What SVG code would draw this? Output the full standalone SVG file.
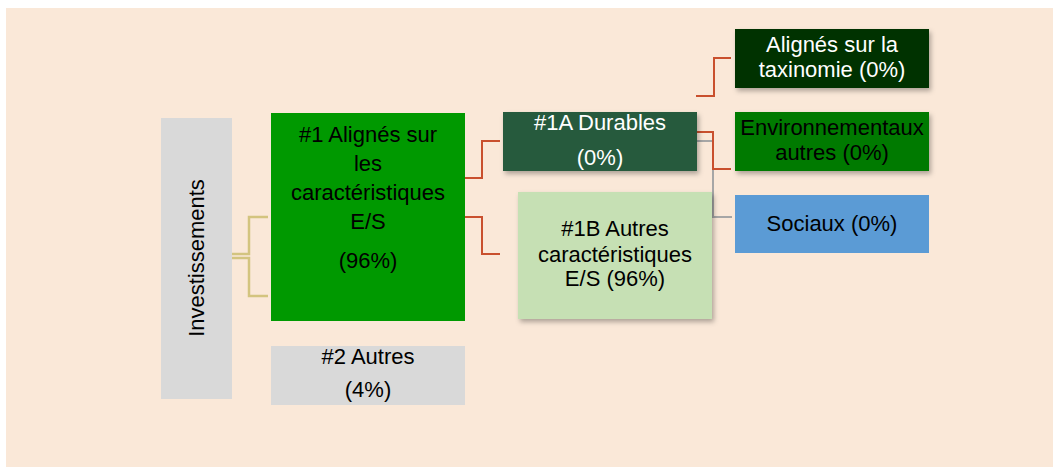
<svg xmlns="http://www.w3.org/2000/svg" width="1053" height="468" viewBox="0 0 1053 468">
<defs>
<style>
text{font-family:"Liberation Sans",Arial,sans-serif;font-size:22px;text-anchor:middle}
.w{fill:#ffffff}
.k{fill:#000000}
.gold{fill:none;stroke:#D3C47F;stroke-width:2.5}
.red{fill:none;stroke:#C9502E;stroke-width:2}
.gray{fill:none;stroke:#A6A6A6;stroke-width:2}
</style>
<filter id="sh" x="-10%" y="-10%" width="125%" height="135%">
<feDropShadow dx="2" dy="3" stdDeviation="2.5" flood-color="#000" flood-opacity="0.3"/>
</filter>
</defs>
<rect x="6" y="8" width="1047" height="459" fill="#FAE8D8"/>
<g id="connectors">
<path class="gold" d="M232 254H249V217H268"/>
<path class="gold" d="M232 258H249V296H268"/>
<path class="red" d="M465 178H482V141H500"/>
<path class="red" d="M465 217H482V254H500"/>
<path class="gray" d="M697 141H713V217H732"/>
<path class="red" d="M697 132H713V169H731"/>
<path class="red" d="M696 96H714V58H731"/>
</g>
<g id="investissements">
<rect x="161" y="118" width="71" height="281" fill="#D9D9D9"/>
<text class="k" transform="translate(204,258) rotate(-90)">Investissements</text>
</g>
<g id="n1">
<rect x="271" y="113" width="194" height="208" fill="#009900"/>
<text class="k" x="368" y="142">#1 Alignés sur</text>
<text class="k" x="368" y="171">les</text>
<text class="k" x="368" y="200">caractéristiques</text>
<text class="k" x="368" y="229">E/S</text>
<text class="k" x="368" y="268">(96%)</text>
</g>
<g id="n2">
<rect x="271" y="346" width="194" height="59" fill="#D9D9D9"/>
<text class="k" x="368" y="364">#2 Autres</text>
<text class="k" x="368" y="397">(4%)</text>
</g>
<g id="n1a">
<rect x="503" y="112" width="194" height="59" fill="#265A3C" filter="url(#sh)"/>
<text class="w" x="600" y="130">#1A Durables</text>
<text class="w" x="600" y="165">(0%)</text>
</g>
<g id="n1b">
<rect x="518" y="192" width="194" height="127" fill="#C6E0B4" filter="url(#sh)"/>
<text class="k" x="615" y="236">#1B Autres</text>
<text class="k" x="615" y="262">caractéristiques</text>
<text class="k" x="615" y="286">E/S (96%)</text>
</g>
<g id="taxo">
<rect x="735" y="29" width="194" height="59" fill="#003300" filter="url(#sh)"/>
<text class="w" x="832" y="52">Alignés sur la</text>
<text class="w" x="832" y="77">taxinomie (0%)</text>
</g>
<g id="env">
<rect x="735" y="112" width="194" height="59" fill="#007A00" filter="url(#sh)"/>
<text class="k" x="832" y="135">Environnementaux</text>
<text class="k" x="832" y="160">autres (0%)</text>
</g>
<g id="sociaux">
<rect x="735" y="195" width="194" height="58" fill="#5B9BD5"/>
<text class="k" x="832" y="231">Sociaux (0%)</text>
</g>
</svg>
